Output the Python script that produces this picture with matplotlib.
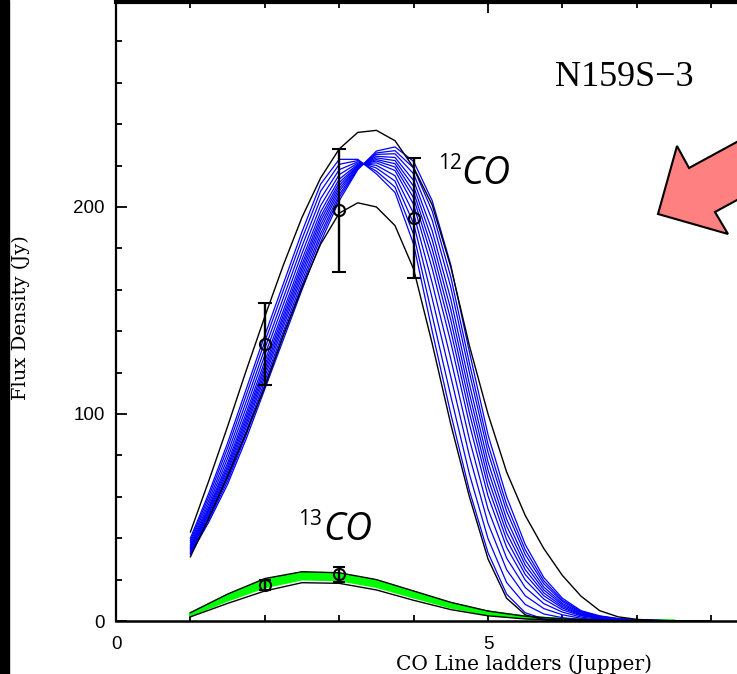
import matplotlib.pyplot as plt
from matplotlib.patches import Polygon, Rectangle
from matplotlib.ticker import MultipleLocator, FixedLocator

# observed fluxes (Jy) and errors
jObs12 = [2, 3, 4]
flux12 = [133.8, 198.5, 194.7]
err12 = [20.0, 29.7, 29.0]
jObs13 = [2, 3]
flux13 = [17.4, 22.5]
err13 = [2.4, 3.6]

# model ladders, 12CO
jGrid12 = [1.0, 1.25, 1.5, 1.75, 2.0, 2.25, 2.5, 2.75, 3.0, 3.25, 3.5, 3.75, 4.0, 4.25,
           4.5, 4.75, 5.0, 5.25, 5.5, 5.75, 6.0, 6.25, 6.5, 6.75, 7.0, 7.25, 7.5, 7.75, 8.0]

blue12 = [
    [40, 62, 86, 112, 138, 163, 188, 211, 223, 223, 216, 207, 182, 140, 100, 63, 33, 13, 4, 1, 0.3, 0.1, 0, 0, 0, 0, 0, 0, 0],
    [39.0, 60.3, 83.6, 109.1, 134.9, 159.8, 184.6, 207.6, 220.6, 222.4, 217.3, 209.6, 186.8, 147.6, 108.6, 71.0, 39.8, 18.6, 8.0, 3.4, 1.6, 0.7, 0.3, 0.14, 0.07, 0.04, 0.01, 0.01, 0],
    [38.0, 58.5, 81.0, 106.0, 131.5, 156.2, 181.0, 204.0, 218.0, 221.8, 218.8, 212.5, 192.0, 155.8, 118.0, 79.8, 47.2, 24.8, 12.2, 6.0, 3.0, 1.3, 0.6, 0.3, 0.15, 0.08, 0.03, 0.01, 0],
    [37.0, 56.8, 78.6, 103.1, 128.4, 153.0, 177.6, 200.6, 215.6, 221.2, 220.1, 215.1, 196.8, 163.3, 126.6, 87.8, 54.1, 30.4, 16.2, 8.4, 4.3, 1.9, 0.9, 0.44, 0.22, 0.11, 0.04, 0.02, 0],
    [36.2, 55.3, 76.4, 100.5, 125.5, 150.0, 174.6, 197.6, 213.4, 220.6, 221.3, 217.6, 201.2, 170.2, 134.6, 95.2, 60.4, 35.6, 19.8, 10.6, 5.4, 2.5, 1.2, 0.58, 0.29, 0.14, 0.05, 0.02, 0],
    [35.5, 54.2, 74.8, 98.6, 123.4, 147.9, 172.3, 195.3, 211.8, 220.2, 222.2, 219.3, 204.4, 175.3, 140.3, 100.5, 64.9, 39.3, 22.5, 12.2, 6.3, 2.8, 1.4, 0.67, 0.34, 0.17, 0.06, 0.03, 0],
    [35.0, 53.2, 73.4, 96.9, 121.6, 146.0, 170.4, 193.4, 210.4, 219.9, 222.9, 220.9, 207.2, 179.7, 145.4, 105.2, 68.9, 42.6, 24.8, 13.6, 7.0, 3.2, 1.6, 0.76, 0.38, 0.19, 0.06, 0.03, 0],
    [34.4, 52.2, 72.0, 95.2, 119.8, 144.1, 168.4, 191.4, 209.0, 219.5, 223.7, 222.4, 210.0, 184.1, 150.4, 109.9, 72.9, 45.9, 27.1, 15.0, 7.8, 3.5, 1.75, 0.84, 0.42, 0.21, 0.07, 0.035, 0],
    [33.8, 51.2, 70.6, 93.5, 118.0, 142.2, 166.4, 189.4, 207.6, 219.2, 224.5, 223.9, 212.8, 188.5, 155.4, 114.6, 76.9, 49.2, 29.4, 16.4, 8.5, 3.9, 1.9, 0.92, 0.46, 0.23, 0.08, 0.04, 0],
    [33.2, 50.1, 69.0, 91.6, 115.9, 140.0, 164.2, 187.2, 206.0, 218.8, 225.4, 225.7, 216.0, 193.6, 161.2, 120.0, 81.5, 53.0, 32.1, 18.0, 9.4, 4.3, 2.1, 1.0, 0.51, 0.26, 0.09, 0.04, 0],
    [32.6, 49.1, 67.6, 89.9, 114.1, 138.2, 162.2, 185.2, 204.6, 218.4, 226.1, 227.2, 218.8, 198.0, 166.2, 124.6, 85.4, 56.2, 34.4, 19.4, 10.1, 4.6, 2.3, 1.1, 0.55, 0.28, 0.09, 0.05, 0],
    [32, 48, 66, 88, 112, 136, 160, 183, 203, 218, 227, 229, 222, 203, 172, 130, 90, 60, 37, 21, 11, 5, 2.5, 1.2, 0.6, 0.3, 0.1, 0.05, 0],
]
blackHigh12 = [43, 68, 94, 121, 147, 172, 195, 214, 228, 236, 237, 232, 219, 201, 171, 133, 100, 72, 51, 35, 22, 12, 5, 2, 0.8, 0.3, 0.1, 0, 0]
blackLow12 = [31, 50, 70, 91, 113, 138, 161, 182, 197, 202, 200, 191, 170, 134, 95, 60, 30, 11, 3, 0.6, 0, 0, 0, 0, 0, 0, 0, 0, 0]

# model ladders, 13CO
jGrid13 = [1.0, 1.5, 2.0, 2.5, 3.0, 3.5, 4.0, 4.5, 5.0, 5.5, 6.0, 6.5, 7.0, 7.5]
green13 = [
    [3.8, 12.6, 19.9, 23.3, 22.8, 19.5, 14.1, 8.65, 4.57, 2.17, 0.94, 0.37, 0.14, 0.05],
    [3.6, 12.1, 19.3, 22.7, 22.3, 19.0, 13.6, 8.3, 4.34, 2.04, 0.87, 0.34, 0.13, 0.04],
    [3.4, 11.7, 18.7, 22.2, 21.8, 18.5, 13.2, 7.95, 4.11, 1.91, 0.81, 0.31, 0.11, 0.035],
    [3.2, 11.2, 18.1, 21.7, 21.3, 18.0, 12.7, 7.6, 3.88, 1.78, 0.74, 0.28, 0.10, 0.03],
    [3.0, 10.8, 17.5, 21.2, 20.8, 17.5, 12.3, 7.25, 3.65, 1.65, 0.68, 0.25, 0.09, 0.025],
    [2.8, 10.3, 16.9, 20.6, 20.2, 17.0, 11.8, 6.9, 3.42, 1.52, 0.61, 0.22, 0.08, 0.02],
    [2.6, 9.9, 16.3, 20.1, 19.7, 16.5, 11.4, 6.55, 3.19, 1.39, 0.55, 0.19, 0.06, 0.015],
]
blackHigh13 = [4.0, 13.0, 20.5, 23.8, 23.3, 20.0, 14.5, 9.0, 4.8, 2.3, 1.0, 0.4, 0.15, 0.05]
blackLow13 = [2.0, 8.5, 14.5, 18.5, 18.2, 15.0, 10.0, 5.5, 2.5, 1.0, 0.35, 0.1, 0.03, 0.0]

W, H = 737, 674
fig = plt.figure(figsize=(W / 100, H / 100), dpi=100)
ax = fig.add_axes([116 / W, 53 / H, 744 / W, 619 / H])

for g in green13:
    ax.plot(jGrid13, g, color='#00ff00', lw=1.6, zorder=2)
ax.plot(jGrid13, blackHigh13, color='black', lw=1.0, zorder=3)
ax.plot(jGrid13, blackLow13, color='black', lw=1.0, zorder=3)

for b in blue12:
    ax.plot(jGrid12, b, color='#0000ff', lw=0.9, zorder=2)
ax.plot(jGrid12, blackHigh12, color='black', lw=1.0, zorder=3)
ax.plot(jGrid12, blackLow12, color='black', lw=1.0, zorder=3)

ax.errorbar(jObs12, flux12, yerr=err12, fmt='o', mfc='none', mec='black', mew=1.5,
            ms=8, ecolor='black', elinewidth=1.7, capsize=4.7, capthick=1.7, zorder=5)
ax.errorbar(jObs13, flux13, yerr=err13, fmt='o', mfc='none', mec='black', mew=1.5,
            ms=8, ecolor='black', elinewidth=1.7, capsize=4.3, capthick=1.7, zorder=5)

ax.set_xlim(0, 10)
ax.set_ylim(0, 299)
ax.xaxis.set_major_locator(FixedLocator([0, 5]))
ax.xaxis.set_minor_locator(MultipleLocator(1))
ax.yaxis.set_major_locator(MultipleLocator(100))
ax.yaxis.set_minor_locator(MultipleLocator(20))
ax.tick_params(which='both', direction='in', top=True, right=False, width=1.3, colors='black')
ax.tick_params(which='major', length=8)
ax.tick_params(which='minor', length=4)
ax.tick_params(axis='x', which='major', pad=11, labelsize=13.5)
ax.tick_params(axis='y', which='major', pad=8, labelsize=13.5)
for lab in ax.get_xticklabels() + ax.get_yticklabels():
    lab.set_family('Liberation Sans')
ax.spines['right'].set_visible(False)
ax.spines['left'].set_linewidth(1.6)
ax.spines['bottom'].set_linewidth(1.8)
ax.spines['top'].set_linewidth(3.0)

fig.text(524 / W, 1 - 664 / H, 'CO Line ladders (Jupper)', family='DejaVu Serif',
         fontsize=14.5, ha='center', va='center')
fig.text(21 / W, 1 - 318 / H, 'Flux Density (Jy)', family='DejaVu Serif',
         fontsize=14, rotation=90, ha='center', va='center')
fig.text(555 / W, 1 - 77 / H, 'N159S\u22123', family='Liberation Serif', fontsize=26,
         ha='left', va='center')

# isotopologue labels
ax.text(4.33, 221, '12', family='Open Sans', fontsize=15, ha='left', va='center')
ax.text(4.64, 216, 'CO', family='Open Sans', style='italic', fontsize=27, ha='left', va='center')
ax.text(2.45, 49, '13', family='Open Sans', fontsize=15, ha='left', va='center')
ax.text(2.78, 44, 'CO', family='Open Sans', style='italic', fontsize=27, ha='left', va='center')

# left frame bar and pointer arrow
fig.add_artist(Rectangle((0, 0), 9 / W, 1, transform=fig.transFigure, color='black'))
arrowPx = [(658, 214), (677, 146), (689, 168), (768, 125), (794, 169), (715, 212), (728, 234)]
fig.add_artist(Polygon([(x / W, 1 - y / H) for x, y in arrowPx], closed=True,
                       transform=fig.transFigure, facecolor='#ff8080', edgecolor='black', lw=1.5))

fig.savefig('out.png', dpi=100)
